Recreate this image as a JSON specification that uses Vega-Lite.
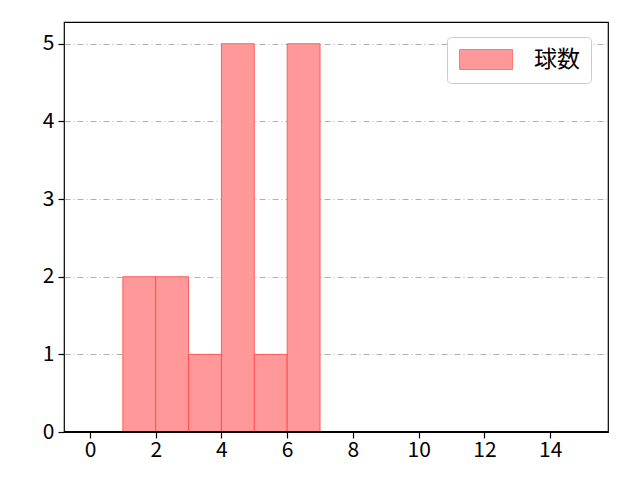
{
  "$schema": "https://vega.github.io/schema/vega-lite/v6.json",
  "autosize": "none",
  "width": 544,
  "height": 410,
  "padding": {"left": 64, "top": 22, "right": 32, "bottom": 48},
  "background": "white",
  "config": {
    "font": "Noto Sans CJK JP",
    "view": {"stroke": "black", "strokeWidth": 1.2}
  },
  "data": {
    "values": [
      {"start": 1, "end": 2, "count": 2, "series": "球数"},
      {"start": 2, "end": 3, "count": 2, "series": "球数"},
      {"start": 3, "end": 4, "count": 1, "series": "球数"},
      {"start": 4, "end": 5, "count": 5, "series": "球数"},
      {"start": 5, "end": 6, "count": 1, "series": "球数"},
      {"start": 6, "end": 7, "count": 5, "series": "球数"}
    ]
  },
  "layer": [
    {
      "mark": {
        "type": "rect",
        "fillOpacity": 1,
        "stroke": "#ff4444",
        "strokeWidth": 1,
        "strokeOpacity": 0.8
      },
      "encoding": {
        "x": {
          "field": "start",
          "type": "quantitative",
          "scale": {"domain": [-0.79, 15.76], "nice": false, "zero": false},
          "axis": {
            "values": [0, 2, 4, 6, 8, 10, 12, 14],
            "format": "d",
            "grid": false,
            "domain": false,
            "title": null,
            "labelFont": "Noto Sans CJK JP",
            "labelFontSize": 21,
            "labelColor": "black",
            "tickColor": "black",
            "tickSize": 6,
            "tickWidth": 1.2,
            "labelPadding": 1
          }
        },
        "x2": {"field": "end"},
        "y": {
          "field": "count",
          "type": "quantitative",
          "scale": {"domain": [0, 5.28], "nice": false},
          "axis": {
            "values": [0, 1, 2, 3, 4, 5],
            "format": "d",
            "grid": true,
            "gridColor": "#b0b0b0",
            "gridDash": [6, 3, 1, 3],
            "gridWidth": 1,
            "domain": false,
            "title": null,
            "labelFont": "Noto Sans CJK JP",
            "labelFontSize": 21,
            "labelColor": "black",
            "tickColor": "black",
            "tickSize": 6,
            "tickWidth": 1.2,
            "labelPadding": 4
          }
        },
        "y2": {"datum": 0},
        "color": {
          "field": "series",
          "type": "nominal",
          "scale": {"range": ["#ff9999"]},
          "legend": {
            "title": null,
            "orient": "none",
            "legendX": 383,
            "legendY": 15,
            "padding": 11,
            "strokeColor": "#cccccc",
            "fillColor": "white",
            "cornerRadius": 4,
            "symbolType": "M-1,-1H4.3V1H-1Z",
            "symbolSize": 400,
            "symbolStrokeColor": "#ff7777",
            "symbolStrokeWidth": 1,
            "symbolOpacity": 1,
            "labelFontSize": 23,
            "labelFont": "Noto Sans CJK JP",
            "labelColor": "black",
            "labelOffset": 53,
            "labelLimit": 200,
            "rowPadding": 0
          }
        }
      }
    },
    {
      "mark": {"type": "rule", "color": "black", "strokeWidth": 1.2},
      "encoding": {"y": {"datum": 0}}
    }
  ]
}
